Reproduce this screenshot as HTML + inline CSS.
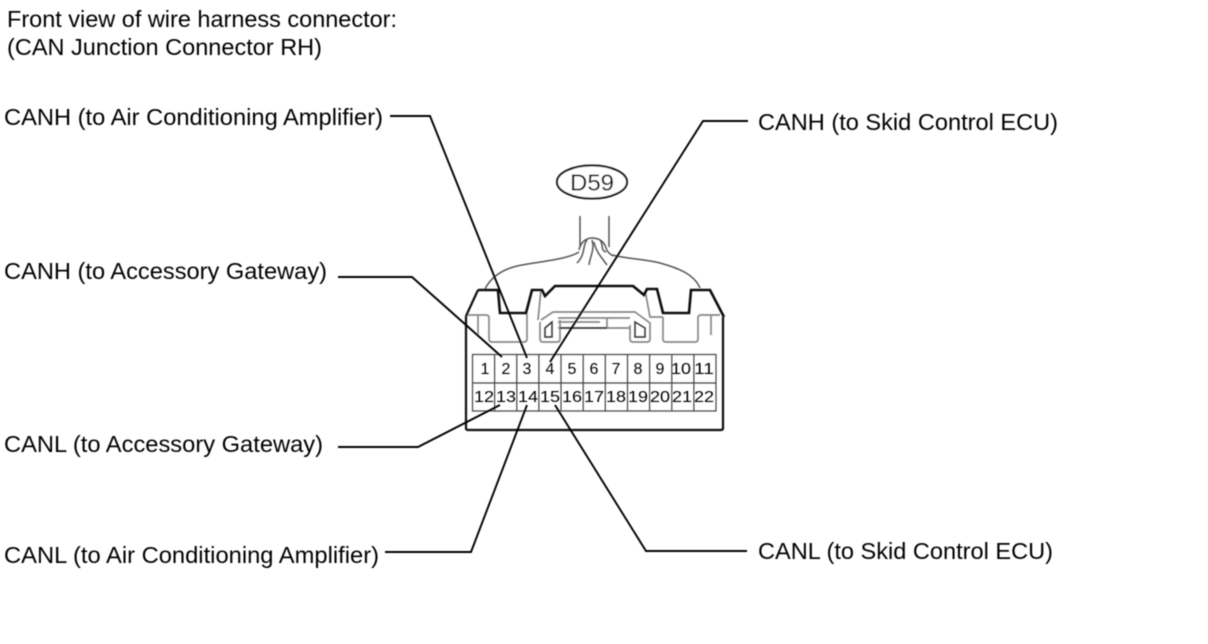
<!DOCTYPE html>
<html>
<head>
<meta charset="utf-8">
<style>
html,body{margin:0;padding:0;background:#fff;}
svg{display:block;}
text{font-family:"Liberation Sans",Arial,sans-serif;fill:#000;}
</style>
</head>
<body>
<svg width="1208" height="644" viewBox="0 0 1208 644" xmlns="http://www.w3.org/2000/svg">
<defs><filter id="b" x="-5%" y="-5%" width="110%" height="110%"><feGaussianBlur stdDeviation="0.4"/></filter></defs>
<rect width="1208" height="644" fill="#fff"/>
<g filter="url(#b)">
  <!-- wires -->
  <g fill="none" stroke="#555" stroke-width="1.5">
    <path d="M580 216V247"/>
    <path d="M609 216V247"/>
    <path d="M485 289C492 275 505 268 522 265C545 261 568 259 579 252"/>
    <path d="M700 288C694 274 678 268 660 263C645 259 628 259 612 255"/>
    <path d="M579 250C581 241 587 238 592 238C597 238 604 240 606 248C607 252 610 254 613 256"/>
    <path d="M587 240C582 246 586 254 577 263"/>
    <path d="M592 240C595 250 590 256 589 265"/>
    <path d="M594 242C596 252 602 258 607 265"/>
    <path d="M600 240C604 245 600 250 606 252"/>
  </g>
  <!-- gray inner details -->
  <g fill="none" stroke="#888" stroke-width="1.7">
    <path d="M467 315H486Q489 315 489 318V339Q489 342 492 342H524Q527 342 527 339V314"/>
    <path d="M478 315V336"/>
    <path d="M541 290L538 320"/>
    <path d="M541 320L553 312H635L650 323V339Q650 342 647 342H633Q630 342 630 339V325"/>
    <path d="M540 322V339Q540 342 543 342H557Q560 342 560 339V320"/>
    <path d="M558 318H607M558 328H607V318M607 328H630M630 318H607M558 322H600"/>
    <path d="M645 290L650 317H663"/>
    <path d="M663 317V339Q663 342 666 342H695Q698 342 698 339V318Q698 315 701 315H720"/>
    <path d="M711 315V335"/>
    <path d="M526 313L527 315"/>
  </g>
  <g fill="none" stroke="#333" stroke-width="1.5">
    <path d="M545 328L552 322V337H545Z"/>
    <path d="M635 322L645 328V337H635Z"/>
    <path d="M560 328H607"/>
  </g>
  <!-- outer body -->
  <path d="M478 290H498L500 313H526L532 290H542L545 296L555 286H633L644 295L647 289H657L663 313H689L691 290H710L724 317" fill="none" stroke="#111" stroke-width="2.6"/>
  <path d="M478 290L466 316" fill="none" stroke="#111" stroke-width="2.2"/>
  <path d="M466 316V428Q466 430 468 430H721Q723 430 723 428V317" fill="none" stroke="#111" stroke-width="2.2"/>
  <!-- pin grid -->
  <g fill="none" stroke="#444" stroke-width="1.2">
    <rect x="472.5" y="354.5" width="243.5" height="56.5"/>
    <path d="M472.5 383H716"/>
    <path d="M494.6 354.5V411M516.8 354.5V411M538.9 354.5V411M561 354.5V411M583.2 354.5V411M605.3 354.5V411M627.5 354.5V411M649.6 354.5V411M671.8 354.5V411M693.9 354.5V411"/>
  </g>
  <g font-size="16" text-anchor="middle">
    <text x="485" y="374">1</text><text x="506" y="374">2</text><text x="527" y="374">3</text><text x="550" y="374">4</text><text x="572" y="374">5</text><text x="594" y="374">6</text><text x="616" y="374">7</text><text x="638" y="374">8</text><text x="660" y="374">9</text><text x="681" y="374" textLength="20" lengthAdjust="spacingAndGlyphs">10</text><text x="704" y="374" textLength="20" lengthAdjust="spacingAndGlyphs">11</text>
    <text x="484" y="402" textLength="20" lengthAdjust="spacingAndGlyphs">12</text><text x="506" y="402" textLength="20" lengthAdjust="spacingAndGlyphs">13</text><text x="528" y="402" textLength="20" lengthAdjust="spacingAndGlyphs">14</text><text x="550" y="402" textLength="20" lengthAdjust="spacingAndGlyphs">15</text><text x="572" y="402" textLength="20" lengthAdjust="spacingAndGlyphs">16</text><text x="594" y="402" textLength="20" lengthAdjust="spacingAndGlyphs">17</text><text x="616" y="402" textLength="20" lengthAdjust="spacingAndGlyphs">18</text><text x="638" y="402" textLength="20" lengthAdjust="spacingAndGlyphs">19</text><text x="660" y="402" textLength="20" lengthAdjust="spacingAndGlyphs">20</text><text x="682" y="402" textLength="20" lengthAdjust="spacingAndGlyphs">21</text><text x="704" y="402" textLength="20" lengthAdjust="spacingAndGlyphs">22</text>
  </g>
  <!-- D59 -->
  <ellipse cx="592" cy="182" rx="35" ry="16.5" fill="#fff" stroke="#111" stroke-width="2"/>
  <text x="592" y="190.500" font-size="23" text-anchor="middle" textLength="44" lengthAdjust="spacingAndGlyphs">D59</text>
  <!-- leaders -->
  <g fill="none" stroke="#000" stroke-width="1.9">
    <path d="M390 116H430L527 358"/>
    <path d="M338 277H412L502 357"/>
    <path d="M338 447H418L500 405"/>
    <path d="M385 552H471L527 405"/>
    <path d="M748 121H703L550 362"/>
    <path d="M747 551H646L555 405"/>
  </g>
  <!-- labels -->
  <g font-size="23">
    <text x="7" y="27" textLength="390" lengthAdjust="spacingAndGlyphs">Front view of wire harness connector:</text>
    <text x="7" y="55" textLength="315" lengthAdjust="spacingAndGlyphs">(CAN Junction Connector RH)</text>
    <text x="4" y="125" textLength="379" lengthAdjust="spacingAndGlyphs">CANH (to Air Conditioning Amplifier)</text>
    <text x="4" y="279" textLength="323" lengthAdjust="spacingAndGlyphs">CANH (to Accessory Gateway)</text>
    <text x="4" y="452" textLength="319" lengthAdjust="spacingAndGlyphs">CANL (to Accessory Gateway)</text>
    <text x="4" y="563" textLength="375" lengthAdjust="spacingAndGlyphs">CANL (to Air Conditioning Amplifier)</text>
    <text x="758" y="130" textLength="300" lengthAdjust="spacingAndGlyphs">CANH (to Skid Control ECU)</text>
    <text x="758" y="559" textLength="295" lengthAdjust="spacingAndGlyphs">CANL (to Skid Control ECU)</text>
  </g>
</g>
</svg>
</body>
</html>
